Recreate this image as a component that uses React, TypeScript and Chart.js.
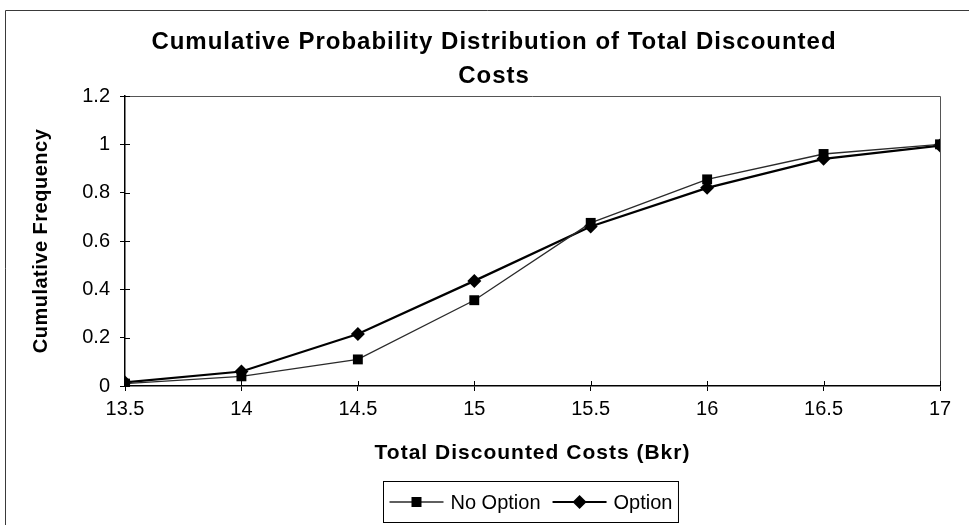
import React, { useEffect, useRef } from "react";
import { Chart, registerables } from "chart.js";

Chart.register(...registerables);

// Total discounted costs (Bkr) and cumulative frequencies of the two cases
const costs = [13.5, 14, 14.5, 15, 15.5, 16, 16.5, 17];
const noOptionFreq = [0.01, 0.04, 0.11, 0.355, 0.675, 0.855, 0.96, 1.0];
const optionFreq = [0.015, 0.06, 0.215, 0.435, 0.66, 0.82, 0.94, 0.995];
const seriesNames = ["No Option", "Option"];
const titleLines = ["Cumulative Probability Distribution of Total Discounted", "Costs"];
const xTitle = "Total Discounted Costs (Bkr)";
const yTitle = "Cumulative Frequency";

const FONT = "'Liberation Sans', Arial, Helvetica, sans-serif";

type Marker = "square" | "diamond";

function drawMarker(ctx: CanvasRenderingContext2D, kind: Marker, x: number, y: number) {
  ctx.beginPath();
  if (kind === "square") {
    ctx.rect(x - 5, y - 5, 10, 10);
  } else {
    ctx.moveTo(x - 7, y);
    ctx.lineTo(x, y - 7);
    ctx.lineTo(x + 7, y);
    ctx.lineTo(x, y + 7);
    ctx.closePath();
  }
  ctx.fill();
}

// plain number labels: 13.5, 14, 0.2, 1 ...
const fmt = (v: number | string) => String(Math.round(Number(v) * 10) / 10);

export default function App() {
  const ref = useRef<HTMLCanvasElement>(null);

  useEffect(() => {
    document.body.style.margin = "0";
    const canvas = ref.current;
    if (!canvas) return;
    const toPoints = (ys: number[]) => costs.map((x, i) => ({ x, y: ys[i] }));

    // white page with the thin outer chart border (left and top edges)
    const framePlugin = {
      id: "outerFrame",
      beforeDraw(chart: any) {
        const { ctx, width, height } = chart;
        ctx.save();
        ctx.fillStyle = "#fff";
        ctx.fillRect(0, 0, width, height);
        ctx.strokeStyle = "#3a3a3a";
        ctx.lineWidth = 1;
        ctx.beginPath();
        ctx.moveTo(5.5, height + 5);
        ctx.lineTo(5.5, 10.5);
        ctx.lineTo(width + 5, 10.5);
        ctx.stroke();
        ctx.restore();
      },
    };

    // grey top/right edges of the plot area and tick marks crossing into the plot
    const plotFramePlugin = {
      id: "plotFrame",
      beforeDatasetsDraw(chart: any) {
        const { ctx, chartArea } = chart;
        const { left, right, top, bottom } = chartArea;
        ctx.save();
        ctx.strokeStyle = "#555";
        ctx.lineWidth = 1;
        ctx.beginPath();
        ctx.moveTo(left, Math.round(top) + 0.5);
        ctx.lineTo(Math.round(right) + 0.5, Math.round(top) + 0.5);
        ctx.lineTo(Math.round(right) + 0.5, bottom);
        ctx.stroke();
        ctx.strokeStyle = "#000";
        const xs = chart.scales.x;
        const ys = chart.scales.y;
        ctx.beginPath();
        xs.ticks.forEach((t: any) => {
          const px = Math.round(xs.getPixelForValue(t.value)) + 0.5;
          ctx.moveTo(px, bottom);
          ctx.lineTo(px, bottom - 5);
        });
        ys.ticks.forEach((t: any) => {
          const py = Math.round(ys.getPixelForValue(t.value)) + 0.5;
          ctx.moveTo(left, py);
          ctx.lineTo(left + 5, py);
        });
        ctx.stroke();
        ctx.restore();
      },
    };

    // chart title and the two axis titles (letter-spaced bold text)
    const titlePlugin = {
      id: "titles",
      afterDraw(chart: any) {
        const { ctx, chartArea } = chart;
        ctx.save();
        ctx.fillStyle = "#000";
        (ctx as any).letterSpacing = "1px";
        ctx.textAlign = "center";
        ctx.textBaseline = "alphabetic";
        ctx.font = `bold 24px ${FONT}`;
        ctx.fillText(titleLines[0], 494, 49);
        ctx.fillText(titleLines[1], 494, 83);

        ctx.font = `bold 21px ${FONT}`;
        ctx.textBaseline = "middle";
        const xMid = (chartArea.left + chartArea.right) / 2;
        ctx.fillText(xTitle, xMid, 453);

        (ctx as any).letterSpacing = "0.5px";
        ctx.font = `bold 20px ${FONT}`;
        const yMid = (chartArea.top + chartArea.bottom) / 2;
        ctx.translate(41, yMid);
        ctx.rotate(-Math.PI / 2);
        ctx.fillText(yTitle, 0, 0);
        ctx.restore();
      },
    };

    // boxed legend below the x-axis title
    const legendPlugin = {
      id: "boxLegend",
      afterDraw(chart: any) {
        const { ctx, chartArea } = chart;
        const markers: Marker[] = ["square", "diamond"];
        ctx.save();
        ctx.font = `20px ${FONT}`;
        const lineLen = 54;
        const gapText = 7;
        const gapEntry = 12;
        const pad = 6;
        const widths = seriesNames.map((s) => ctx.measureText(s).width);
        const total =
          pad * 2 + widths.reduce((a, w) => a + lineLen + gapText + w, 0) + gapEntry * (seriesNames.length - 1);
        const cx = (chartArea.left + chartArea.right) / 2 - 2;
        const boxLeft = Math.round(cx - total / 2) + 0.5;
        const boxTop = 481.5;
        const boxBottom = 522.5;
        const midY = (boxTop + boxBottom) / 2;
        ctx.strokeStyle = "#000";
        ctx.lineWidth = 1;
        ctx.strokeRect(boxLeft, boxTop, total, boxBottom - boxTop);
        let x = boxLeft + pad;
        seriesNames.forEach((name, i) => {
          const ds = chart.data.datasets[i];
          ctx.strokeStyle = ds.borderColor;
          ctx.lineWidth = ds.borderWidth;
          ctx.beginPath();
          ctx.moveTo(x, midY);
          ctx.lineTo(x + lineLen, midY);
          ctx.stroke();
          ctx.fillStyle = "#000";
          drawMarker(ctx, markers[i], x + lineLen / 2, midY);
          x += lineLen + gapText;
          ctx.fillStyle = "#000";
          ctx.textAlign = "left";
          ctx.textBaseline = "middle";
          ctx.fillText(name, x, midY + 1);
          x += widths[i] + gapEntry;
        });
        ctx.restore();
      },
    };

    const tickFont = { family: FONT, size: 20 };

    const chart = new Chart(canvas, {
      type: "line",
      data: {
        datasets: [
          {
            label: seriesNames[0],
            data: toPoints(noOptionFreq),
            borderColor: "#2a2a2a",
            borderWidth: 1.3,
            pointStyle: "rect",
            pointRadius: 7,
            pointBackgroundColor: "#000",
            pointBorderColor: "#000",
            pointBorderWidth: 0,
            tension: 0,
            fill: false,
          },
          {
            label: seriesNames[1],
            data: toPoints(optionFreq),
            borderColor: "#000",
            borderWidth: 2.2,
            pointStyle: "rectRot",
            pointRadius: 7,
            pointBackgroundColor: "#000",
            pointBorderColor: "#000",
            pointBorderWidth: 0,
            tension: 0,
            fill: false,
          },
        ],
      },
      options: {
        responsive: false,
        animation: false,
        devicePixelRatio: 1,
        layout: { padding: { left: 10, top: 96, right: 29, bottom: 58 } },
        plugins: {
          legend: { display: false },
          title: { display: false },
          tooltip: { enabled: false },
        },
        scales: {
          x: {
            type: "linear",
            min: 13.5,
            max: 17,
            afterFit: (scale: any) => {
              scale.height = 81;
            },
            ticks: { stepSize: 0.5, font: tickFont, color: "#000", padding: 6, maxRotation: 0, callback: fmt },
            grid: { drawOnChartArea: false, drawTicks: true, tickLength: 5, color: "#000" },
            border: { display: true, color: "#000", width: 1.5 },
          },
          y: {
            type: "linear",
            min: 0,
            max: 1.2,
            afterFit: (scale: any) => {
              scale.width = 115;
            },
            ticks: { stepSize: 0.2, font: tickFont, color: "#000", padding: 10, callback: fmt },
            grid: { drawOnChartArea: false, drawTicks: true, tickLength: 5, color: "#000" },
            border: { display: true, color: "#000", width: 1.5 },
          },
        },
      },
      plugins: [framePlugin, plotFramePlugin, titlePlugin, legendPlugin],
    });

    return () => chart.destroy();
  }, []);

  return <canvas ref={ref} width={969} height={525} style={{ display: "block" }} />;
}
